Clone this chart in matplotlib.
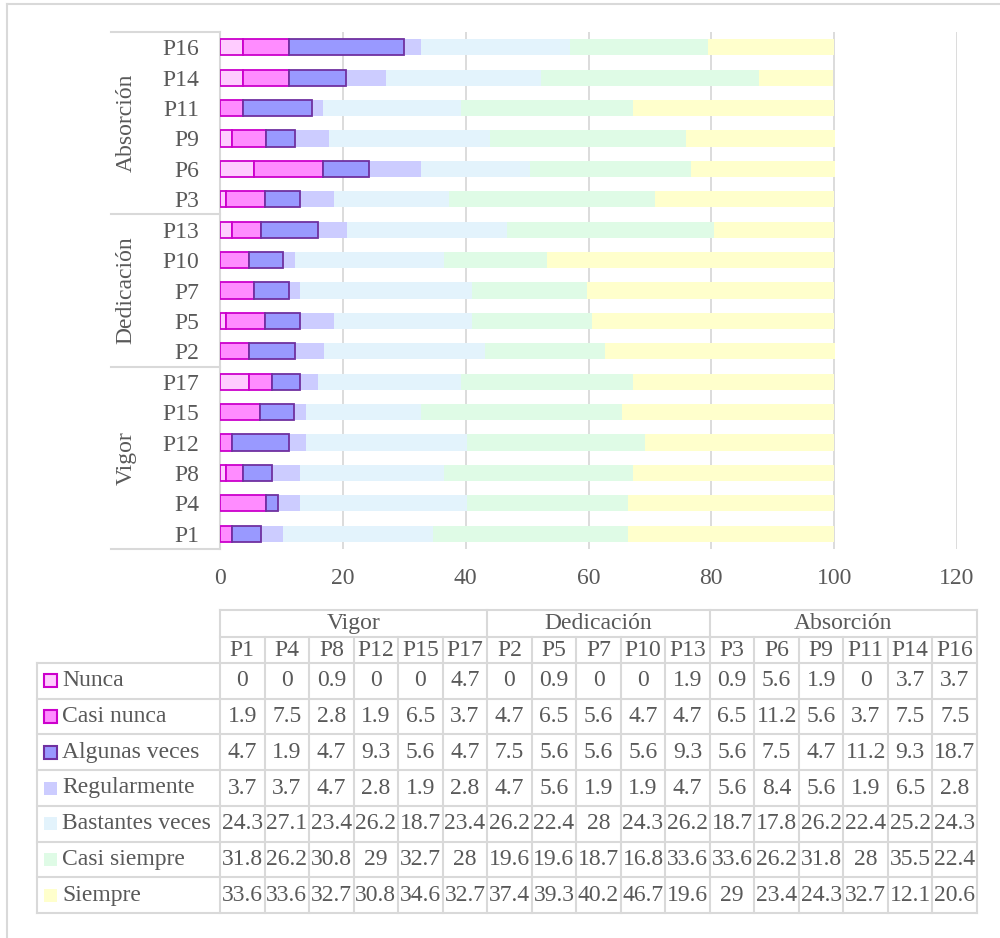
import numpy as np
import matplotlib
matplotlib.use("Agg")
import matplotlib.pyplot as plt
from matplotlib.lines import Line2D
from matplotlib.patches import Rectangle
import matplotlib.transforms as mtransforms

# data (table order = bar order from bottom to top)
groups = ["Vigor", "Dedicación", "Absorción"]
group_items = [["P1", "P4", "P8", "P12", "P15", "P17"],
               ["P2", "P5", "P7", "P10", "P13"],
               ["P3", "P6", "P9", "P11", "P14", "P16"]]
questions = [q for g in group_items for q in g]

series_names = ["Nunca", "Casi nunca", "Algunas veces", "Regularmente",
                "Bastantes veces", "Casi siempre", "Siempre"]
nunca = [0, 0, 0.9, 0, 0, 4.7, 0, 0.9, 0, 0, 1.9, 0.9, 5.6, 1.9, 0, 3.7, 3.7]
casi_nunca = [1.9, 7.5, 2.8, 1.9, 6.5, 3.7, 4.7, 6.5, 5.6, 4.7, 4.7, 6.5, 11.2, 5.6, 3.7, 7.5, 7.5]
algunas = [4.7, 1.9, 4.7, 9.3, 5.6, 4.7, 7.5, 5.6, 5.6, 5.6, 9.3, 5.6, 7.5, 4.7, 11.2, 9.3, 18.7]
regular = [3.7, 3.7, 4.7, 2.8, 1.9, 2.8, 4.7, 5.6, 1.9, 1.9, 4.7, 5.6, 8.4, 5.6, 1.9, 6.5, 2.8]
bastantes = [24.3, 27.1, 23.4, 26.2, 18.7, 23.4, 26.2, 22.4, 28, 24.3, 26.2, 18.7, 17.8, 26.2, 22.4, 25.2, 24.3]
casi_siempre = [31.8, 26.2, 30.8, 29, 32.7, 28, 19.6, 19.6, 18.7, 16.8, 33.6, 33.6, 26.2, 31.8, 28, 35.5, 22.4]
siempre = [33.6, 33.6, 32.7, 30.8, 34.6, 32.7, 37.4, 39.3, 40.2, 46.7, 19.6, 29, 23.4, 24.3, 32.7, 12.1, 20.6]
series_vals = [nunca, casi_nunca, algunas, regular, bastantes, casi_siempre, siempre]

fills = ["#FFCCFF", "#FF8CFF", "#9999FF", "#CCCCFF", "#E3F3FC", "#DFFBE6", "#FFFFCC"]
edges = ["#CC00CC", "#CC00CC", "#7030A0", None, None, None, None]

txt_col = "#595959"
grid_col = "#D9D9D9"
fs = 17

plt.rcParams['font.family'] = ['Liberation Serif', 'DejaVu Serif']

W, H = 1000, 938
fig = plt.figure(figsize=(W / 100, H / 100), dpi=100)

def fx(px):
    return px / W

def fy(py):
    return 1 - py / H

# chart border
fig.add_artist(Line2D([fx(7), 1], [fy(4), fy(4)], color=grid_col, lw=1.5, transform=fig.transFigure))
fig.add_artist(Line2D([fx(7), fx(7)], [fy(4), 0], color=grid_col, lw=1.5, transform=fig.transFigure))

ax_l, ax_r, ax_t, ax_b = 220, 957, 32, 549
ax = fig.add_axes([fx(ax_l), fy(ax_b), fx(ax_r - ax_l), fy(ax_t) - fy(ax_b)])

y = np.arange(len(questions))
left = np.zeros(len(questions))
for name, vals, fc, ec in zip(series_names, series_vals, fills, edges):
    vals = np.array(vals, dtype=float)
    if ec:
        ax.barh(y, vals, left=left, height=0.53, color=fc, edgecolor=ec, linewidth=1.3, zorder=3)
    else:
        ax.barh(y, vals, left=left, height=0.53, color=fc, linewidth=0, zorder=2)
    left += vals

ax.set_xlim(0, 120)
ax.set_ylim(-0.5, len(questions) - 0.5)
ax.set_xticks(np.arange(0, 121, 20))
ax.xaxis.grid(True, color=grid_col, lw=1.3, zorder=0)
ax.set_axisbelow(True)
for s in ["top", "right", "bottom"]:
    ax.spines[s].set_visible(False)
ax.spines["left"].set_color(grid_col)
ax.spines["left"].set_linewidth(1.5)
ax.set_yticks(y)
ax.set_yticklabels(questions)
ax.tick_params(axis="y", length=0, pad=15, labelsize=fs, labelcolor=txt_col)
ax.tick_params(axis="x", length=0, pad=14, labelsize=fs, labelcolor=txt_col)

# group separators and labels on the category axis
trans = mtransforms.blended_transform_factory(ax.transAxes, ax.transData)
sep_x0 = (111 - ax_l) / (ax_r - ax_l)
lab_x = (126 - ax_l) / (ax_r - ax_l)
start = 0
bounds = [-0.5]
for g, items in zip(groups, group_items):
    end = start + len(items)
    bounds.append(end - 0.5)
    ax.text(lab_x, (start + end - 1) / 2, g, rotation=90, transform=trans,
            ha="center", va="center", fontsize=fs, color=txt_col)
    start = end
for b in bounds:
    ax.add_line(Line2D([sep_x0, 0], [b, b], transform=trans, color=grid_col,
                       lw=1.5, clip_on=False))

# data table below
t_left, t_right = 220, 977
lab_left = 37
ncol = len(questions)
cw = (t_right - t_left) / ncol
r0, r1, r2 = 610, 637, 663
rh = (913 - r2) / len(series_names)
r_end = r2 + rh * len(series_names)

def hline(x0, x1, yy):
    fig.add_artist(Line2D([fx(x0), fx(x1)], [fy(yy), fy(yy)], color=grid_col, lw=1.5, transform=fig.transFigure))

def vline(xx, y0, y1):
    fig.add_artist(Line2D([fx(xx), fx(xx)], [fy(y0), fy(y1)], color=grid_col, lw=1.5, transform=fig.transFigure))

hline(t_left, t_right, r0)
hline(t_left, t_right, r1)
for i in range(len(series_names) + 1):
    hline(lab_left, t_right, r2 + i * rh)
vline(lab_left, r2, r_end)
vline(t_left, r0, r_end)
vline(t_right, r0, r_end)

# group header
c = 0
for g, items in zip(groups, group_items):
    x0 = t_left + c * cw
    x1 = t_left + (c + len(items)) * cw
    fig.text(fx((x0 + x1) / 2), fy((r0 + r1) / 2), g, ha="center", va="center",
             fontsize=fs, color=txt_col)
    c += len(items)
    if c < ncol:
        vline(x1, r0, r1)

for j, q in enumerate(questions):
    if j > 0:
        vline(t_left + j * cw, r1, r_end)
    fig.text(fx(t_left + (j + 0.5) * cw), fy((r1 + r2) / 2), q, ha="center", va="center",
             fontsize=fs, color=txt_col)

for i, (name, vals, fc, ec) in enumerate(zip(series_names, series_vals, fills, edges)):
    yc = r2 + (i + 0.5) * rh
    ks = 13
    fig.add_artist(Rectangle((fx(44), fy(yc + ks / 2)), fx(ks), fy(yc - ks / 2) - fy(yc + ks / 2),
                             facecolor=fc, edgecolor=ec if ec else fc,
                             lw=1.5 if ec else 0, transform=fig.transFigure))
    fig.text(fx(62), fy(yc), name, ha="left", va="center", fontsize=fs, color=txt_col)
    for j, v in enumerate(vals):
        fig.text(fx(t_left + (j + 0.5) * cw), fy(yc), "%g" % v, ha="center", va="center",
                 fontsize=fs, color=txt_col)

fig.savefig("out.png", dpi=100, facecolor="white")
